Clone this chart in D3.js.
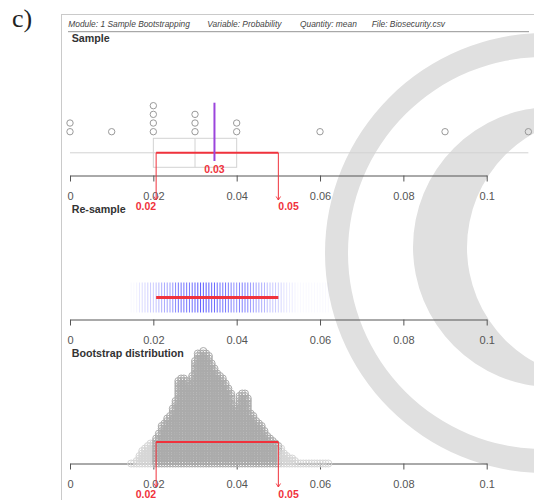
<!DOCTYPE html>
<html>
<head>
<meta charset="utf-8">
<script src="https://cdn.jsdelivr.net/npm/d3@7"></script>
<style>
  html, body { margin: 0; padding: 0; background: #fff; }
  svg { display: block; }
</style>
</head>
<body>
<svg id="chart" width="534" height="500"></svg>
<script>
// ---- data ----
const figureTag = "c)";
const headerItems = ["Module: 1 Sample Bootstrapping", "Variable: Probability", "Quantity: mean", "File: Biosecurity.csv"];
const panelTitles = ["Sample", "Re-sample", "Bootstrap distribution"];
const sampleValues = [0, 0, 0.01, 0.02, 0.02, 0.02, 0.02, 0.03, 0.03, 0.03, 0.04, 0.04, 0.06, 0.09, 0.11];
const tickValues = [0, 0.02, 0.04, 0.06, 0.08, 0.1];
const tickLabels = ["0", "0.02", "0.04", "0.06", "0.08", "0.1"];
// possible bootstrap means (n = 15) and how many resamples gave each
const bootMeans = [
  0.01467, 0.01533, 0.016, 0.01667, 0.01733, 0.018, 0.01867, 0.01933, 0.02, 0.02067,
  0.02133, 0.022, 0.02267, 0.02333, 0.024, 0.02467, 0.02533, 0.026, 0.02667, 0.02733,
  0.028, 0.02867, 0.02933, 0.03, 0.03067, 0.03133, 0.032, 0.03267, 0.03333, 0.034,
  0.03467, 0.03533, 0.036, 0.03667, 0.03733, 0.038, 0.03867, 0.03933, 0.04, 0.04067,
  0.04133, 0.042, 0.04267, 0.04333, 0.044, 0.04467, 0.04533, 0.046, 0.04667, 0.04733,
  0.048, 0.04867, 0.04933, 0.05, 0.05067, 0.05133, 0.052, 0.05267, 0.05333, 0.054,
  0.05467, 0.05533, 0.056, 0.05667, 0.05733, 0.058, 0.05867, 0.05933, 0.06, 0.06067,
  0.06133, 0.062
];
const bootCounts = [
  1, 1, 2, 4, 6, 7, 8, 9, 9, 11,
  13, 16, 17, 19, 20, 23, 26, 34, 35, 35,
  34, 32, 36, 42, 45, 45, 46, 45, 44, 41,
  39, 37, 36, 35, 33, 31, 29, 24, 23, 28,
  29, 29, 27, 21, 20, 18, 17, 16, 14, 12,
  11, 10, 9, 8, 7, 5, 4, 3, 3, 2,
  1, 1, 1, 1, 1, 1, 1, 1, 1, 1,
  1, 1
];
const ciLower = 0.02067;
const ciUpper = 0.05;

// ---- drawing ----
const svg = d3.select("#chart");
const sans = "'Liberation Sans', Arial, sans-serif";
const red = "#f0323c";
const fmt = d3.format(".2f");

const x = d3.scaleLinear().domain([0, 0.1]).range([70, 486.7]);
const axisY = [175.5, 319.5, 463.5];

// background emblem: ring plus "C"
const circ = (cx, cy, r) => `M${cx - r},${cy}a${r},${r} 0 1,0 ${2 * r},0a${r},${r} 0 1,0 ${-2 * r},0Z`;
const emblem = svg.append("g").attr("fill", "#e0e0e0").attr("fill-rule", "evenodd");
emblem.append("path").attr("d", circ(545, 253, 220) + circ(544, 253, 196));
emblem.append("path").attr("d", circ(553, 247, 140) + circ(598, 247.5, 131));

// figure tag
svg.append("text").attr("x", 12).attr("y", 27)
  .attr("font-family", "'Liberation Serif', 'Times New Roman', serif")
  .attr("font-size", 26).attr("fill", "#222").text(figureTag);

// frame
svg.append("rect").attr("x", 61.5).attr("y", 14.5).attr("width", 600).attr("height", 600)
  .attr("fill", "none").attr("stroke", "#cacaca");

// header line
const headerX = [68.3, 207.3, 300, 371.7];
svg.append("g").selectAll("text").data(headerItems).join("text")
  .attr("x", (d, i) => headerX[i]).attr("y", 27.3)
  .attr("font-family", sans).attr("font-size", 8.4).attr("font-style", "italic")
  .attr("fill", "#444").text(d => d);
svg.append("line").attr("x1", 68).attr("x2", 529).attr("y1", 31.7).attr("y2", 31.7)
  .attr("stroke", "#777").attr("stroke-width", 0.8);

// panel titles
const titleY = [42.3, 213, 357];
svg.append("g").selectAll("text").data(panelTitles).join("text")
  .attr("x", 71.7).attr("y", (d, i) => titleY[i])
  .attr("font-family", sans).attr("font-size", 10.7).attr("font-weight", "bold")
  .attr("fill", "#333").text(d => d);

// axes
axisY.forEach(ay => {
  const g = svg.append("g").attr("transform", `translate(0,${ay})`)
    .call(d3.axisBottom(x).tickValues(tickValues).tickFormat((d, i) => tickLabels[i])
      .tickSize(6).tickSizeOuter(0));
  g.select(".domain").attr("stroke", "#555");
  g.selectAll(".tick line").attr("stroke", "#555");
  g.selectAll(".tick text").attr("y", 24.3).attr("dy", null)
    .attr("font-family", sans).attr("font-size", 11).attr("fill", "#555");
});

// red CI bracket with arrows and value labels
function bracket(yLine, yTip, yLabel) {
  const g = svg.append("g");
  [ciLower, ciUpper].forEach((v, i) => {
    const px = x(v);
    g.append("line").attr("x1", px).attr("x2", px).attr("y1", yLine).attr("y2", yTip)
      .attr("stroke", red).attr("stroke-width", 1);
    g.append("path").attr("d", `M${px - 2.2},${yTip - 3.5}L${px},${yTip}L${px + 2.2},${yTip - 3.5}`)
      .attr("fill", "none").attr("stroke", red).attr("stroke-width", 0.9);
    g.append("text").attr("x", px).attr("y", yLabel)
      .attr("text-anchor", i === 0 ? "end" : "start")
      .attr("font-family", sans).attr("font-size", 10.5).attr("font-weight", "bold")
      .attr("fill", red).text(fmt(v));
  });
  g.append("line").attr("x1", x(ciLower)).attr("x2", x(ciUpper)).attr("y1", yLine).attr("y2", yLine)
    .attr("stroke", red).attr("stroke-width", 2);
}

// ---- Sample panel ----
const sorted = sampleValues.slice().sort(d3.ascending);
const q1 = d3.quantile(sorted, 0.25), med = d3.quantile(sorted, 0.5), q3 = d3.quantile(sorted, 0.75);
const sampleMean = d3.mean(sampleValues);
const boxTop = 138.3, boxBot = 167.3, boxMid = (boxTop + boxBot) / 2;

svg.append("line").attr("x1", x(d3.min(sorted))).attr("x2", x(d3.max(sorted)))
  .attr("y1", boxMid).attr("y2", boxMid).attr("stroke", "#d2d2d2");
svg.append("rect").attr("x", x(q1)).attr("y", boxTop).attr("width", x(q3) - x(q1)).attr("height", boxBot - boxTop)
  .attr("fill", "none").attr("stroke", "#d2d2d2");
svg.append("line").attr("x1", x(med)).attr("x2", x(med)).attr("y1", boxTop).attr("y2", boxBot)
  .attr("stroke", "#d2d2d2");

const seen = new Map();
const sampleDots = sampleValues.map(v => {
  const k = seen.get(v) || 0;
  seen.set(v, k + 1);
  return { v, k };
});
svg.append("g").selectAll("circle").data(sampleDots).join("circle")
  .attr("cx", d => x(d.v)).attr("cy", d => 131.7 - d.k * 8.67).attr("r", 3.2)
  .attr("fill", "none").attr("stroke", "#9a9a9a").attr("stroke-width", 1);

bracket(boxMid, 200, 210);

svg.append("line").attr("x1", x(sampleMean)).attr("x2", x(sampleMean)).attr("y1", 102.7).attr("y2", 161)
  .attr("stroke", "#9b45dc").attr("stroke-width", 2);
svg.append("text").attr("x", x(sampleMean)).attr("y", 172.7).attr("text-anchor", "middle")
  .attr("font-family", sans).attr("font-size", 10.5).attr("font-weight", "bold")
  .attr("fill", red).text(fmt(sampleMean));

// ---- Re-sample panel: one faint line per bootstrap mean ----
svg.append("g").selectAll("line").data(bootMeans).join("line")
  .attr("x1", d => x(d)).attr("x2", d => x(d))
  .attr("y1", axisY[1] - 37).attr("y2", axisY[1] - 7)
  .attr("stroke", "#1f1fff").attr("stroke-width", 1)
  .attr("stroke-opacity", (d, i) => 1 - Math.pow(0.972, bootCounts[i]));
svg.append("line").attr("x1", x(ciLower)).attr("x2", x(ciUpper))
  .attr("y1", axisY[1] - 22).attr("y2", axisY[1] - 22)
  .attr("stroke", red).attr("stroke-width", 3);

// ---- Bootstrap distribution: stacked dots ----
const stackStep = 2.5;
const bootDots = [];
bootMeans.forEach((m, i) => {
  for (let k = 0; k < bootCounts[i]; k++) bootDots.push({ m, k, inside: m >= ciLower - 1e-9 && m <= ciUpper + 1e-9 });
});
svg.append("g").selectAll("circle").data(bootDots).join("circle")
  .attr("cx", d => x(d.m)).attr("cy", d => axisY[2] - d.k * stackStep).attr("r", 3.5)
  .attr("fill", "none").attr("stroke", d => d.inside ? "#ababab" : "#d6d6d6").attr("stroke-width", 1);

bracket(442, 487, 498);
</script>
</body>
</html>
